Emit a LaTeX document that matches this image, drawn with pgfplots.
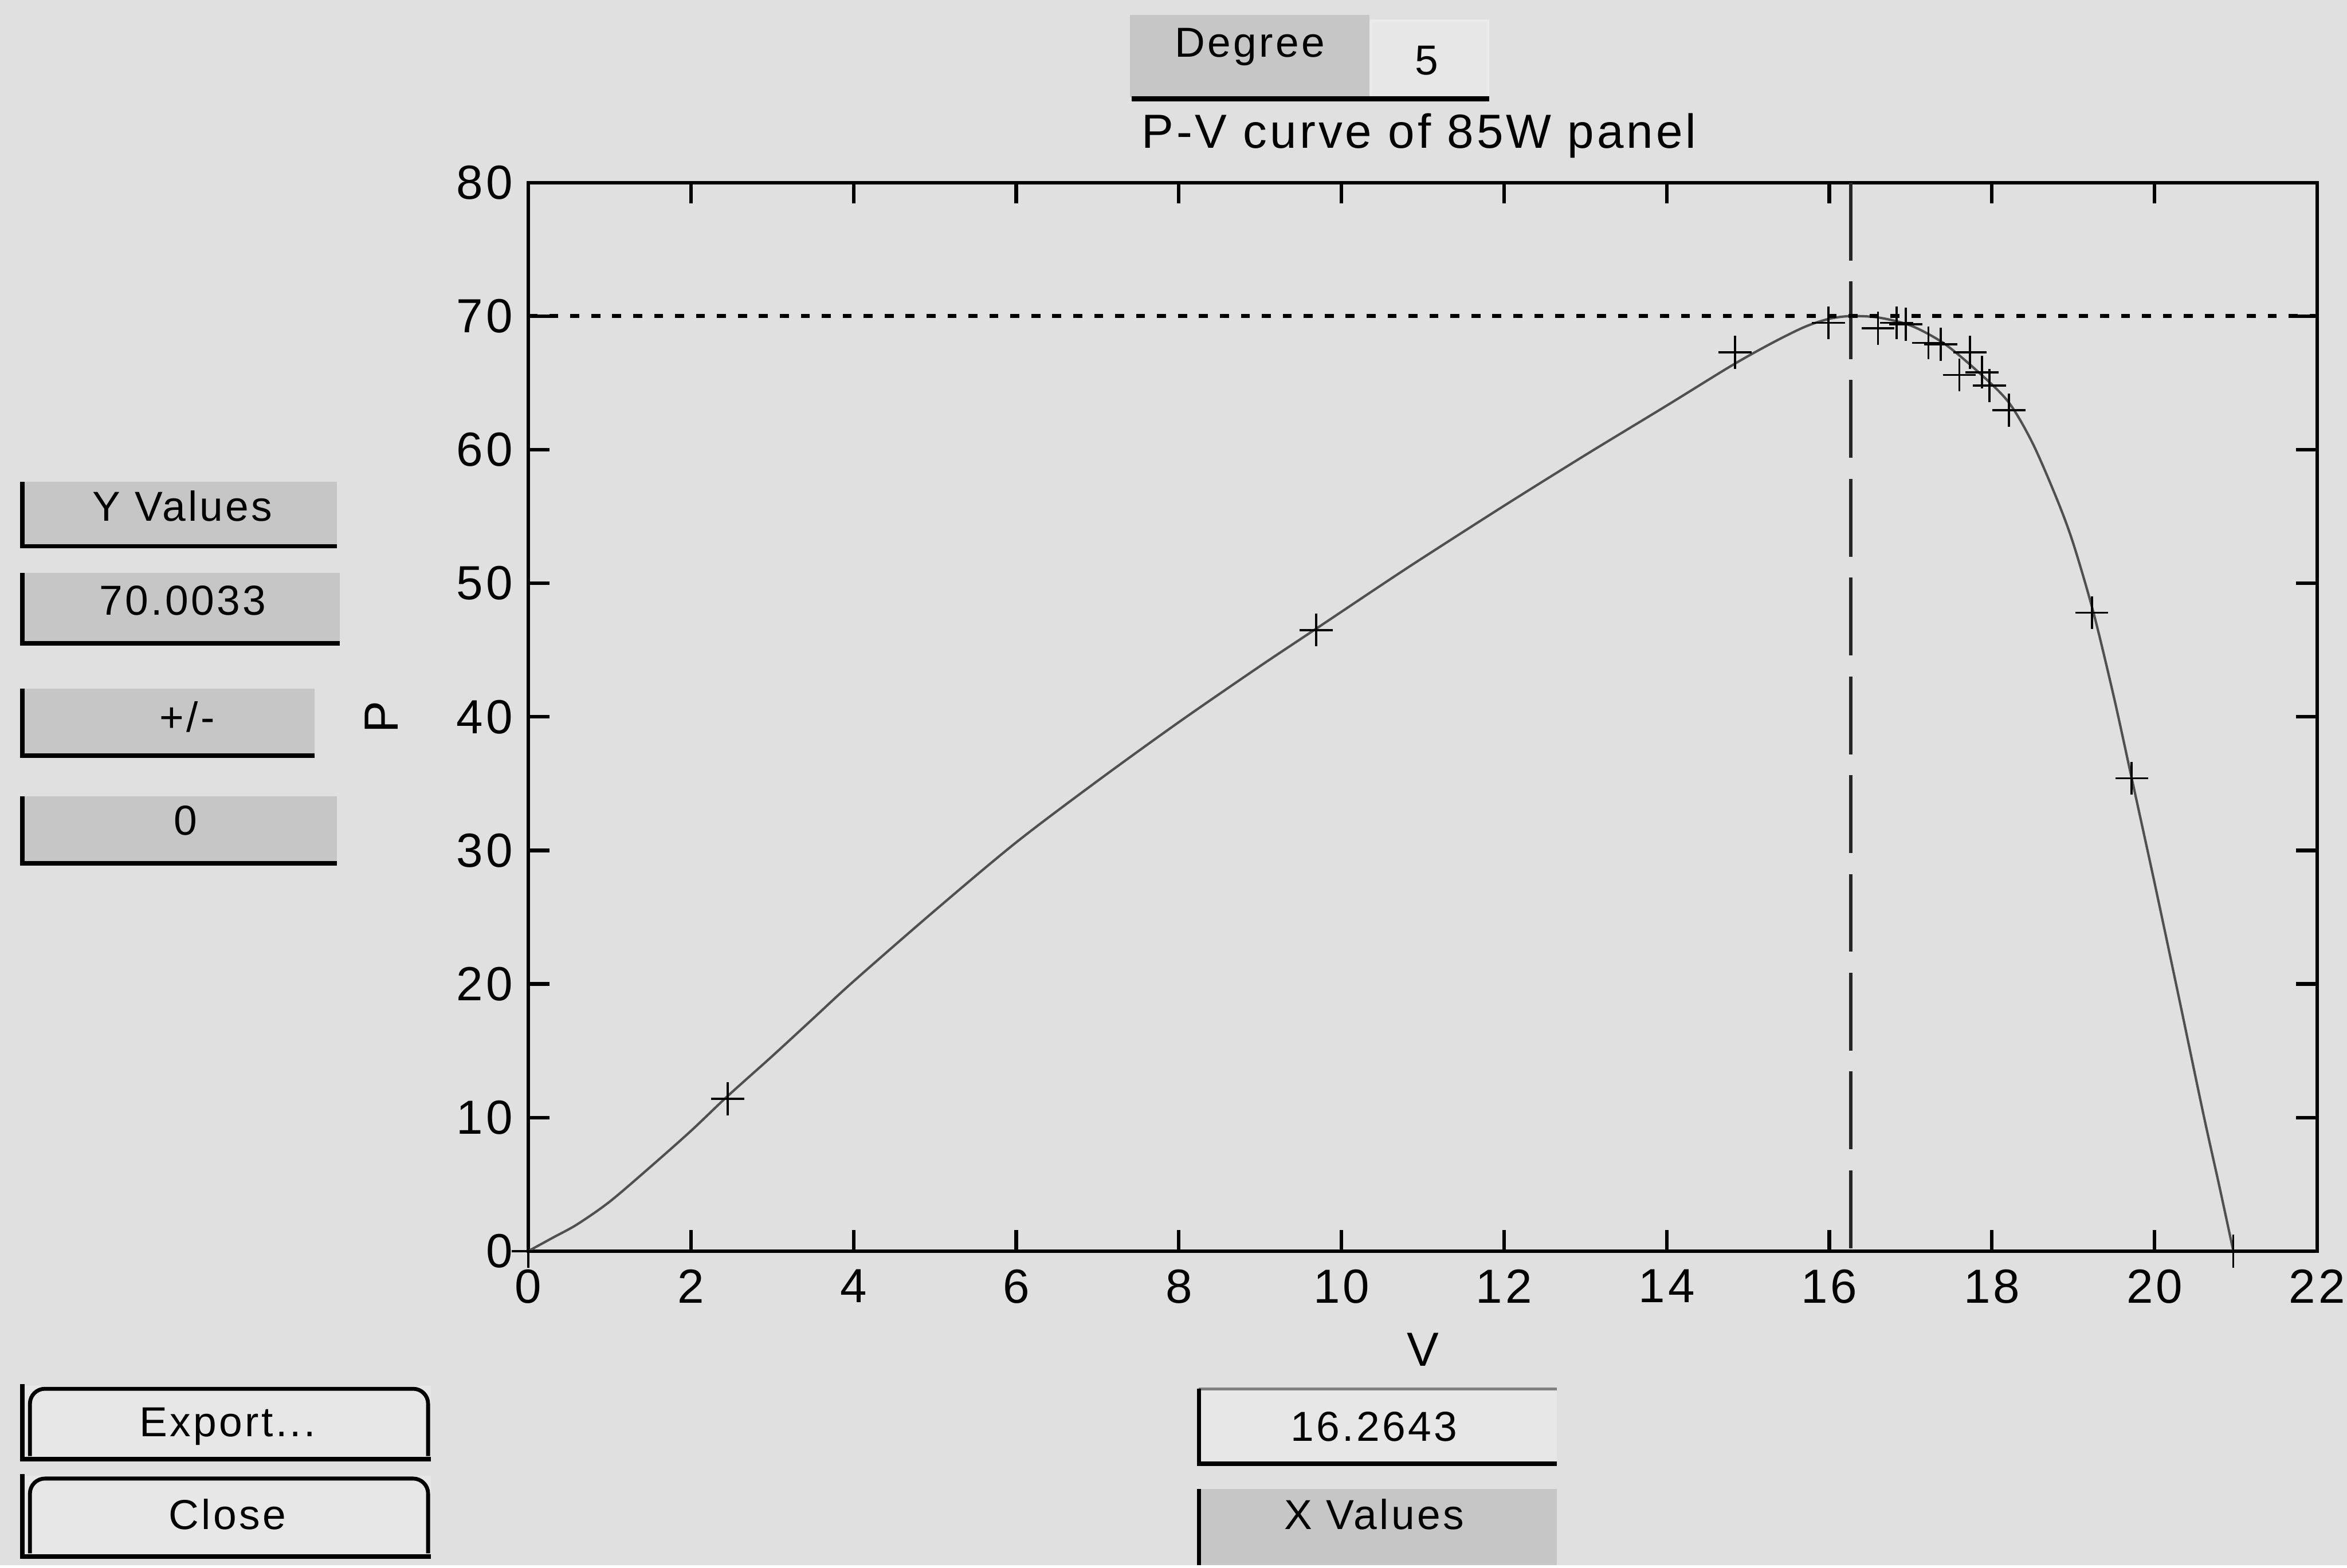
\documentclass[border=0pt]{standalone}
\usepackage{fontspec}
\setmainfont{Liberation Sans}[LetterSpace=6]
\usepackage{pgfplots}
\pgfplotsset{compat=1.18}
\definecolor{bg}{HTML}{E0E0E0}
\definecolor{btn}{HTML}{C6C6C6}
\definecolor{lbtn}{HTML}{E7E7E7}
\definecolor{curvec}{HTML}{505050}
\begin{document}
\begin{tikzpicture}[x=0.5pt,y=0.5pt]
\fill[bg] (0,0) rectangle (1568,1046);
% --- top controls
\fill[btn] (755,981) rectangle (915,1036);
\fill[lbtn] (915,982) rectangle (995,1032);
\draw[white!92!black, line width=0.8pt] (916,982) -- (916,1032) -- (994,1032) -- (994,982);
\draw[line width=1.6pt] (756,980) -- (995,980);
\node[anchor=base, inner sep=0pt, font=\fontsize{14}{16}\selectfont] at (835,1008) {Degree};
\node[anchor=base, inner sep=0pt, font=\fontsize{14}{16}\selectfont] at (953,996) {5};
\node[anchor=base, inner sep=0pt, font=\fontsize{16}{19}\selectfont] at (948,947) {P-V curve of 85W panel};
% --- left controls
\fill[btn] (15,681) rectangle (225,724);
\draw[line width=1.5pt] (15,724) -- (15,681) -- (225,681);
\node[anchor=base, inner sep=0pt, font=\fontsize{14}{16}\selectfont] at (122,698) {Y Values};
\fill[btn] (15,616) rectangle (227,663);
\draw[line width=1.5pt] (15,663) -- (15,616) -- (227,616);
\node[anchor=base, inner sep=0pt, font=\fontsize{14}{16}\selectfont] at (122,635) {70.0033};
\fill[btn] (15,541) rectangle (210,586);
\draw[line width=1.5pt] (15,586) -- (15,541) -- (210,541);
\node[anchor=base, inner sep=0pt, font=\fontsize{14}{16}\selectfont] at (125,557) {+/-};
\fill[btn] (15,469) rectangle (225,514);
\draw[line width=1.5pt] (15,514) -- (15,469) -- (225,469);
\node[anchor=base, inner sep=0pt, font=\fontsize{14}{16}\selectfont] at (124,488) {0};
% --- bottom-left buttons
\fill[lbtn] (15,71) rectangle (288,120);
\draw[line width=1.3pt, rounded corners=5pt] (20,73) -- (20,118) -- (286,118) -- (286,73);
\draw[line width=1.6pt] (15,121) -- (15,71) -- (288,71);
\node[anchor=base, inner sep=0pt, font=\fontsize{14}{16}\selectfont] at (152,86) {Export...};
\fill[lbtn] (15,6) rectangle (288,60);
\draw[line width=1.3pt, rounded corners=5pt] (20,8) -- (20,58) -- (286,58) -- (286,8);
\draw[line width=1.6pt] (15,61) -- (15,6) -- (288,6);
\node[anchor=base, inner sep=0pt, font=\fontsize{14}{16}\selectfont] at (152,24) {Close};
% --- bottom-centre controls
\fill[lbtn] (800,68) rectangle (1040,118);
\draw[gray, line width=1pt] (801,118) -- (1040,118);
\draw[line width=1.5pt] (801,118) -- (801,68) -- (1040,68);
\node[anchor=base, inner sep=0pt, font=\fontsize{14}{16}\selectfont] at (918,83) {16.2643};
\fill[btn] (800,0) rectangle (1040,51);
\draw[line width=1.5pt] (801,51) -- (801,0);
\node[anchor=base, inner sep=0pt, font=\fontsize{14}{16}\selectfont] at (918,24) {X Values};
% --- axis
\begin{axis}[
  at={(176.5pt,105pt)}, anchor=south west,
  scale only axis, width=597.5pt, height=357pt,
  xmin=0, xmax=22, ymin=0, ymax=80,
  xtick={0,2,...,22}, ytick={0,10,...,80},
  tick align=inside, major tick length=7pt,
  axis line style={line width=1.2pt},
  every tick/.style={black, line width=1.2pt},
  tick label style={font=\fontsize{16}{19}\selectfont, inner sep=0pt},
  xticklabel style={yshift=-6pt},
  yticklabel style={xshift=-5pt},
  /pgf/number format/assume math mode=true,
  xlabel={V}, ylabel={P},
  label style={font=\fontsize{16}{19}\selectfont, inner sep=0pt},
  xlabel style={at={(axis description cs:0.5,-0.0924)}, anchor=center},
  ylabel style={at={(axis description cs:-0.082,0.5)}, anchor=center},
  clip=false,
]
\addplot[curvec, line width=0.8pt, smooth, tension=0.5] coordinates {
(0,0) (0.3,1.0) (0.6,2.0) (1.0,3.7) (1.5,6.3) (2.0,9.0) (2.45,11.6)
(3.0,14.6) (3.5,17.4) (4.0,20.2) (5.0,25.5) (6.0,30.6) (7.0,35.2)
(8.0,39.6) (9.0,43.8) (9.69,46.6) (10.5,49.9) (11.0,51.9) (12.0,55.8)
(13.0,59.6) (14.0,63.3) (14.8,66.3) (15.3,68.0) (15.7,69.2) (16.0,69.8)
(16.26,70.0) (16.6,69.9) (17.0,69.3) (17.4,68.0) (17.8,66.0) (18.2,63.6)
(18.5,60.5) (18.8,56.3) (19.0,53.0) (19.25,47.8) (19.5,41.5) (19.72,35.4)
(20.0,27.6) (20.3,19.0) (20.6,10.3) (20.8,4.8) (20.97,0)
};
\addplot[only marks, mark=+, mark size=5.5pt, mark options={black, line width=0.7pt}] coordinates {
(0,0) (2.45,11.4) (9.69,46.5) (14.84,67.3) (15.99,69.5) (16.60,69.1)
(16.83,69.5) (16.94,69.4) (17.22,68.0) (17.37,67.9) (17.73,67.3)
(17.60,65.6) (17.88,65.8) (17.97,64.8) (18.21,62.95) (19.23,47.8)
(19.72,35.4) (20.97,0)
};
\addplot[black!85, line width=1.1pt, dash pattern=on 26pt off 7pt] coordinates {(16.2643,80) (16.2643,0)};
\addplot[black, line width=1.3pt, dash pattern=on 3pt off 4pt] coordinates {(0,70.0033) (22,70.0033)};
\end{axis}
\end{tikzpicture}
\end{document}
